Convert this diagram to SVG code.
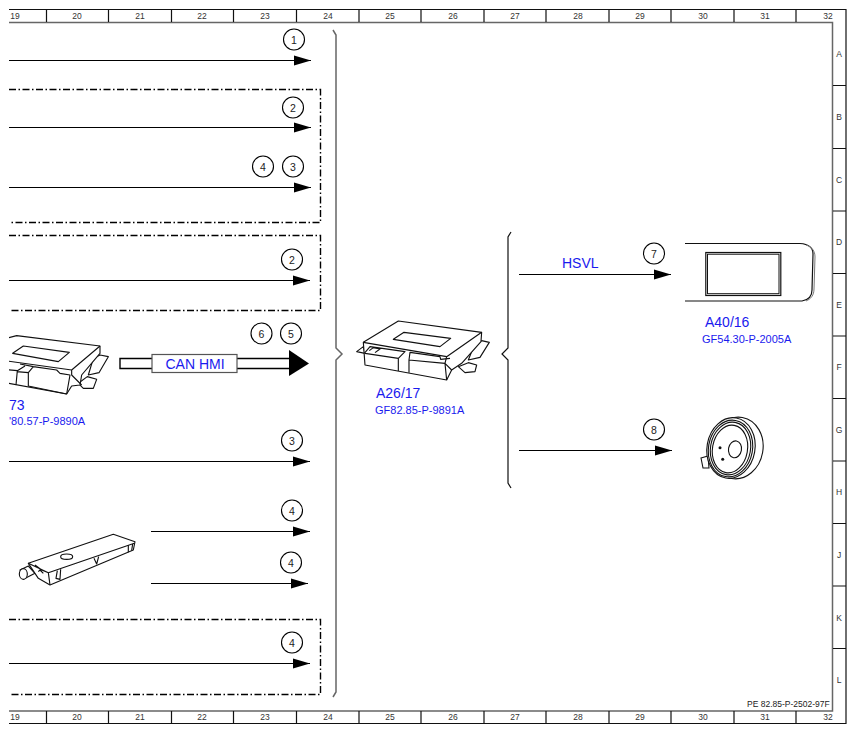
<svg xmlns="http://www.w3.org/2000/svg" width="856" height="735" viewBox="0 0 856 735">
<defs>
<marker id="arr" markerUnits="userSpaceOnUse" markerWidth="18" markerHeight="12" refX="17" refY="6" orient="auto"><path d="M0 1L17 6L0 11Z" fill="#000"/></marker>
<clipPath id="leftclip"><rect x="9" y="320" width="120" height="90"/></clipPath>
</defs>
<style>
.f{fill:none;stroke:#111;stroke-width:1.2}
.g{fill:none;stroke:#666;stroke-width:1.5}
.r{font:8.5px "Liberation Sans",Arial,sans-serif;fill:#333;text-anchor:middle}
.a{stroke:#000;stroke-width:1.2;fill:none;marker-end:url(#arr)}
.d{stroke:#000;stroke-width:1.4;fill:none;stroke-dasharray:7 2.5 1.5 2.5}
.c circle{fill:#fff;stroke:#000;stroke-width:1.1}
.c text{font:10.5px "Liberation Sans",Arial,sans-serif;fill:#222;text-anchor:middle}
.b1{font:14px "Liberation Sans",Arial,sans-serif;fill:#1a1aee}
.b2{font:11px "Liberation Sans",Arial,sans-serif;fill:#1a1aee}
.ill{fill:#fff;stroke:#111;stroke-width:3.4;stroke-linejoin:round}
.ln{fill:none;stroke:#111;stroke-width:3.4;stroke-linejoin:round}
</style>
<rect width="856" height="735" fill="#fff"/>
<g id="frame">
<path class="f" d="M9 9.500H846V723.500H9"/>
<path class="g" d="M9 22.500H832.500V711H9"/>
<path class="f" d="M46.500 10V22M108.500 10V22M171.500 10V22M233.500 10V22M296.500 10V22M359 10V22M421 10V22M484 10V22M546 10V22M609 10V22M671 10V22M734 10V22M796 10V22M46.500 711V723M108.500 711V723M171.500 711V723M233.500 711V723M296.500 711V723M359 711V723M421 711V723M484 711V723M546 711V723M609 711V723M671 711V723M734 711V723M796 711V723M833 85.500H846M833 148.500H846M833 211H846M833 273.500H846M833 336H846M833 398.500H846M833 461H846M833 523.500H846M833 586H846M833 648.500H846"/>
<g class="r">
<text x="15" y="19">19</text><text x="77" y="19">20</text><text x="140" y="19">21</text><text x="202" y="19">22</text><text x="265" y="19">23</text><text x="328" y="19">24</text><text x="390" y="19">25</text><text x="453" y="19">26</text><text x="515" y="19">27</text><text x="578" y="19">28</text><text x="640" y="19">29</text><text x="703" y="19">30</text><text x="765" y="19">31</text><text x="828" y="19">32</text>
<text x="15" y="720">19</text><text x="77" y="720">20</text><text x="140" y="720">21</text><text x="202" y="720">22</text><text x="265" y="720">23</text><text x="328" y="720">24</text><text x="390" y="720">25</text><text x="453" y="720">26</text><text x="515" y="720">27</text><text x="578" y="720">28</text><text x="640" y="720">29</text><text x="703" y="720">30</text><text x="765" y="720">31</text><text x="828" y="720">32</text>
<text x="839" y="57">A</text><text x="839" y="120">B</text><text x="839" y="183">C</text><text x="839" y="245">D</text><text x="839" y="308">E</text><text x="839" y="370">F</text><text x="839" y="433">G</text><text x="839" y="495">H</text><text x="839" y="558">J</text><text x="839" y="621">K</text><text x="839" y="683">L</text>
</g>
<text x="747" y="707" style="font:8.5px 'Liberation Sans',Arial,sans-serif;fill:#222">PE 82.85-P-2502-97F</text>
</g>
<g id="connectors">
<path class="a" d="M9 60.500H311"/>
<path class="a" d="M9 127.500H311"/>
<path class="a" d="M9 187.500H311"/>
<path class="a" d="M9 280.500H310"/>
<path class="a" d="M9 461.500H310"/>
<path class="a" d="M151 531.500H310"/>
<path class="a" d="M151 583.500H308"/>
<path class="a" d="M9 663.500H310"/>
<path class="a" d="M519 274.500H671"/>
<path class="a" d="M519 450.500H672"/>
<path class="d" d="M9 89.500H320.500V222.500H9"/>
<path class="d" d="M9 235.500H320.500V310.500H9"/>
<path class="d" d="M9 619.500H320.500V694.500H9"/>
<path d="M120 358.500H290V368.500H120Z" fill="#fff" stroke="#000" stroke-width="1.4"/>
<path d="M289 350L309 363.500L289 376Z" fill="#000"/>
<path class="g" d="M333 30L336 35V348L342 354L336 360V692L333 697"/>
<path d="M511 232L508 237V348L502 354L508 360V483L511 488" fill="none" stroke="#111" stroke-width="1.2"/>
</g>
<g id="label-can-hmi">
<rect x="152" y="354.500" width="85" height="18" fill="#fff" stroke="#555" stroke-width="1.2"/>
<text x="195" y="369" text-anchor="middle" class="b1">CAN HMI</text>
</g>
<text id="label-hsvl" x="562" y="268" class="b1">HSVL</text>
<g id="callouts" class="c">
<g><circle cx="294" cy="39.500" r="10.500"/><text x="294" y="43.500">1</text></g>
<g><circle cx="293" cy="107.500" r="10.500"/><text x="293" y="111.500">2</text></g>
<g><circle cx="263" cy="166.500" r="10.500"/><text x="263" y="170.500">4</text></g>
<g><circle cx="293" cy="166.500" r="10.500"/><text x="293" y="170.500">3</text></g>
<g><circle cx="292" cy="259.500" r="10.500"/><text x="292" y="263.500">2</text></g>
<g><circle cx="261.500" cy="333.500" r="10.500"/><text x="261.500" y="337.500">6</text></g>
<g><circle cx="291" cy="333.500" r="10.500"/><text x="291" y="337.500">5</text></g>
<g><circle cx="292" cy="440.500" r="10.500"/><text x="292" y="444.500">3</text></g>
<g><circle cx="292" cy="510.500" r="10.500"/><text x="292" y="514.500">4</text></g>
<g><circle cx="291" cy="562.500" r="10.500"/><text x="291" y="566.500">4</text></g>
<g><circle cx="292" cy="642.500" r="10.500"/><text x="292" y="646.500">4</text></g>
<g><circle cx="654" cy="253.500" r="10.500"/><text x="654" y="257.500">7</text></g>
<g><circle cx="654" cy="429.500" r="10.500"/><text x="654" y="433.500">8</text></g>
</g>
<g id="node-left-module">
<g clip-path="url(#leftclip)">
<g transform="translate(0,320) scale(0.3333)">
<path class="ill" d="M280 115L300 105L325 110L297 158L265 165Z"/>
<path class="ill" d="M235 190L262 170L290 178L280 205L250 205Z"/>
<path class="ill" d="M0 60L50 47L300 78L300 100L245 165L240 195L215 198L200 222L0 185Z"/>
<path class="ln" d="M0 120L215 150L300 78M215 150L215 165L245 195"/>
<path class="ill" d="M38 100L70 78L208 97L175 125Z"/>
<path class="ln" d="M0 147L52 152L48 195M52 152L75 138M85 158L100 140L170 150L180 160L210 165L200 222M85 158V198L200 222M50 155L85 158M100 140L60 132"/>
</g>
</g>
<text x="9" y="410" class="b1">73</text>
<text x="9" y="425" class="b2">'80.57-P-9890A</text>
</g>
<g id="node-a26-17">
<g transform="translate(330,300) scale(0.3333)">
<path class="ill" d="M435 130L455 122L478 127L450 172L415 180Z"/>
<path class="ill" d="M385 200L415 188L440 195L435 215L405 218Z"/>
<path class="ill" d="M80 155L100 140L105 160Z"/>
<path class="ill" d="M100 127L205 63L455 97L453 125L395 190L365 210L350 240L105 195Z"/>
<path class="ln" d="M100 127L350 170L455 97M350 170L345 190L350 240M345 190L365 210"/>
<path class="ill" d="M190 118L222 97L362 115L330 140Z"/>
<path class="ln" d="M103 160L120 140L225 155L205 175V213M105 160L205 175M118 152L130 143L150 147L135 158M237 218V180L345 190M237 180L240 157L330 170L332 178L360 175"/>
</g>
<text x="376" y="398" class="b1">A26/17</text>
<text x="375" y="414" class="b2">GF82.85-P-9891A</text>
</g>
<g id="node-a40-16">
<path d="M685 243.500H800C809 244 813 248 813 254L812 290C812 296 808 300 802 301H685" fill="none" stroke="#111" stroke-width="1.2"/>
<path d="M806 245C812 247 815 251 815 257L814 289C814 295 811 299 806 301" fill="none" stroke="#777" stroke-width="1"/>
<rect x="705.800" y="252.500" width="75" height="43" fill="#fff" stroke="#111" stroke-width="1.2"/>
<rect x="707.500" y="254.200" width="71.500" height="39.500" fill="#fff" stroke="#111" stroke-width="1"/>
<text x="705" y="327" class="b1">A40/16</text>
<text x="702" y="343" class="b2">GF54.30-P-2005A</text>
</g>
<g id="node-8">
<g fill="none" stroke="#111" stroke-width="1.1">
<path d="M701 458L708 456L709 468L703 468Z" fill="#fff"/>
<ellipse cx="737" cy="448" rx="26" ry="31" transform="rotate(10 737 448)" fill="#fff"/>
<ellipse cx="731" cy="448" rx="24" ry="30.500" transform="rotate(10 731 448)" fill="#fff"/>
<ellipse cx="730.500" cy="448.500" rx="22" ry="28.500" transform="rotate(10 730.500 448.500)"/>
<ellipse cx="730.500" cy="448.500" rx="20" ry="26.500" transform="rotate(10 730.500 448.500)"/>
<ellipse cx="730" cy="449" rx="17.500" ry="24" transform="rotate(10 730 449)"/>
<ellipse cx="735" cy="449.300" rx="6.500" ry="8.500" transform="rotate(10 735 449.300)"/>
</g>
<circle cx="720" cy="447.700" r="1.500" fill="#111"/>
<circle cx="722.700" cy="459.300" r="1.500" fill="#111"/>
</g>
<g id="node-antenna">
<g transform="translate(0,520) scale(0.3333)">
<path class="ill" d="M60 150L85 138L105 160L70 178Z"/>
<ellipse class="ill" cx="70" cy="162" rx="12" ry="16"/>
<path class="ill" d="M85 130L340 43L405 65L400 90L150 195L115 175L105 160Z"/>
<path class="ln" d="M85 130L145 158L403 70M145 158L150 195M105 135L125 150L145 158M115 155L120 150L130 160"/>
<path class="ln" d="M172 152L168 175L180 178L182 148M282 115L290 132L296 110M385 75L385 97M398 72L395 92"/>
<ellipse class="ill" cx="200" cy="110" rx="18" ry="8"/>
</g>
</g>
</svg>
